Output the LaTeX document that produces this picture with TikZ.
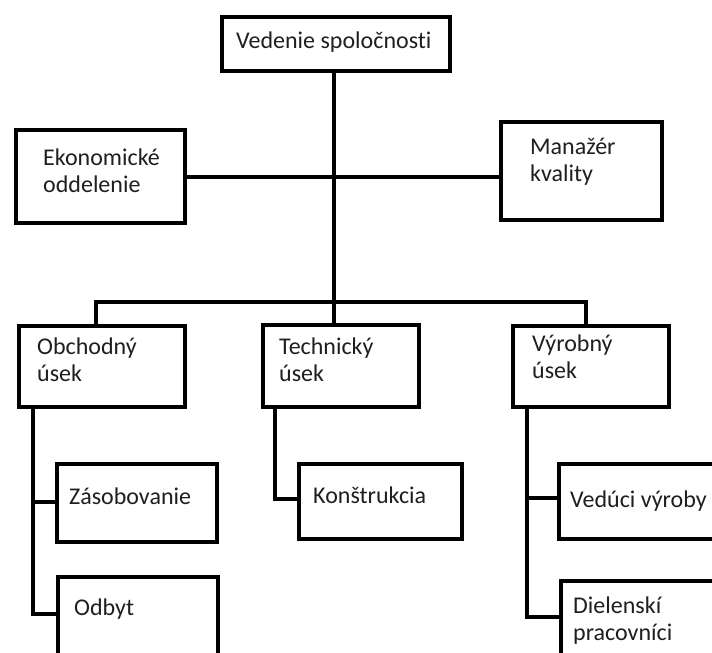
\documentclass[tikz,border=0pt]{standalone}
\usepackage{fontspec}
\setmainfont[Ligatures=NoCommon]{Carlito}
\begin{document}
\begin{tikzpicture}[x=1pt,y=-1pt,
  box/.style={draw=black, line width=4pt, rectangle, inner sep=0pt, anchor=north west, fill=white},
  conn/.style={draw=black, line width=3.6pt},
  txt/.style={inner sep=0pt, anchor=base west, align=left, text=black!88,
    font=\fontsize{24}{27}\selectfont}]
\useasboundingbox (0,0) rectangle (712,653);
\clip (0,0) rectangle (712,653);
% boxes (north west corner, sizes on line centres)
\node[box, minimum width=228pt, minimum height=54pt] (top)  at (220,15)  {};
\node[box, minimum width=169pt, minimum height=93pt] (eko)  at (14,128)  {};
\node[box, minimum width=161pt, minimum height=98pt] (man)  at (499,120) {};
\node[box, minimum width=166pt, minimum height=81pt] (obch) at (17,324)  {};
\node[box, minimum width=156pt, minimum height=82pt] (tech) at (261,323) {};
\node[box, minimum width=156pt, minimum height=81pt] (vyr)  at (511,324) {};
\node[box, minimum width=160pt, minimum height=78pt] (zas)  at (55,462)  {};
\node[box, minimum width=160pt, minimum height=110pt] (odb) at (56,575)  {};
\node[box, minimum width=163pt, minimum height=75pt] (kon)  at (297,462) {};
\node[box, minimum width=180pt, minimum height=75pt] (ved)  at (557,462) {};
\node[box, minimum width=180pt, minimum height=110pt] (diel) at (559,579) {};
% texts (multi-line nodes are anchored on the baseline of their last line)
\node[txt] (topt)  at (236,48)  {Vedenie spoločnosti};
\node[txt] (ekot)  at (43,192)  {Ekonomické\\oddelenie};
\node[txt] (mant)  at (530,181) {Manažér\\kvality};
\node[txt] (obcht) at (37,381)  {Obchodný\\úsek};
\node[txt] (techt) at (279,381) {Technický\\úsek};
\node[txt] (vyrt)  at (532,378) {Výrobný\\úsek};
\node[txt] (zast)  at (69,504)  {Zásobovanie};
\node[txt] (odbt)  at (74,615)  {Odbyt};
\node[txt] (kont)  at (313,503) {Konštrukcia};
\node[txt] (vedt)  at (570,507) {Vedúci výroby};
\node[txt] (dielt) at (573,640) {Dielenskí\\pracovníci};
% junction coordinates
\coordinate (bus) at (334,302);
\coordinate (mid) at (334,177);
\coordinate (bl)  at (96,302);
\coordinate (br)  at (586,302);
\coordinate (lv)  at (33,405);
\coordinate (tv)  at (275,405);
\coordinate (rv)  at (527,405);
\coordinate (odbs)  at (56,614);
\coordinate (diels) at (559,617);
\coordinate (kons)  at (297,499);
\coordinate (zass)  at (55,502);
\coordinate (veds)  at (557,498);
% connectors
\draw[conn] (top.south -| bus) -- (bus);
\draw[conn] (mid -| eko.east) -- (mid -| man.west);
\draw[conn] (bl |- obch.north) -- (bl) -- (br) -- (br |- vyr.north);
\draw[conn] (bus) -- (bus |- tech.north);
\draw[conn] (lv) |- (zass);
\draw[conn] (lv) |- (odbs);
\draw[conn] (tv) |- (kons);
\draw[conn] (rv) |- (veds);
\draw[conn] (rv) |- (diels);
\end{tikzpicture}
\end{document}
